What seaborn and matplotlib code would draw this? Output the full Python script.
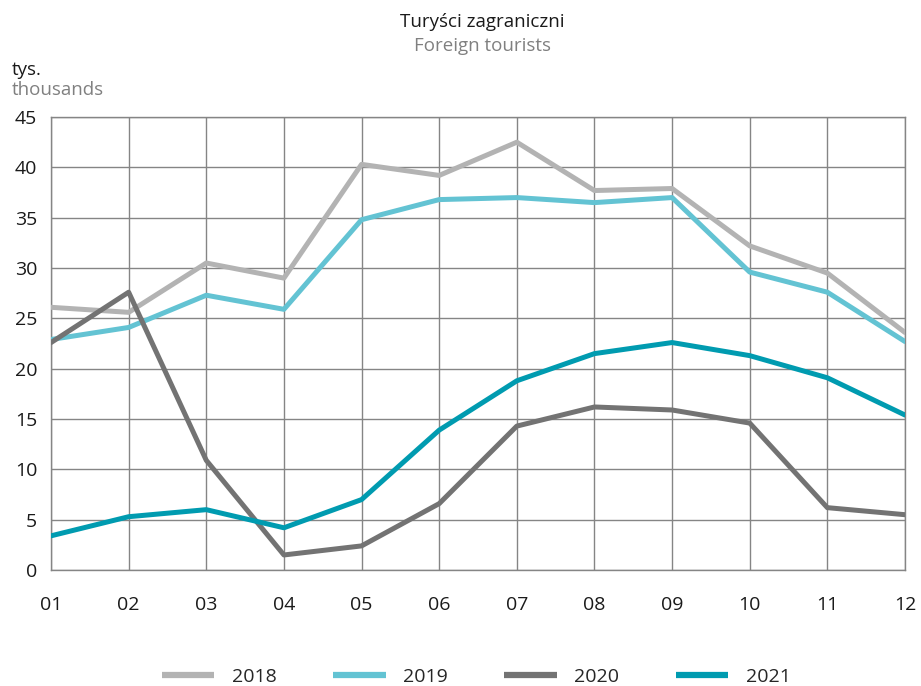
import numpy as np
import pandas as pd
import matplotlib
matplotlib.use("Agg")
import matplotlib.pyplot as plt
import seaborn as sns

sns.set_theme(style="white")
plt.rcParams['font.family'] = ['Open Sans', 'DejaVu Sans']

# Monthly foreign tourists, thousands
months = ["01", "02", "03", "04", "05", "06", "07", "08", "09", "10", "11", "12"]
years = ["2018", "2019", "2020", "2021"]
y2018 = [26.1, 25.6, 30.5, 29.0, 40.3, 39.2, 42.5, 37.7, 37.9, 32.2, 29.5, 23.6]
y2019 = [22.9, 24.1, 27.3, 25.9, 34.8, 36.8, 37.0, 36.5, 37.0, 29.6, 27.6, 22.7]
y2020 = [22.6, 27.6, 10.9, 1.5, 2.4, 6.6, 14.3, 16.2, 15.9, 14.6, 6.2, 5.5]
y2021 = [3.4, 5.3, 6.0, 4.2, 7.0, 13.9, 18.8, 21.5, 22.6, 21.3, 19.1, 15.4]
colors = ["#b3b3b3", "#63c3d3", "#737373", "#009bb0"]

df = pd.DataFrame({
    "month": list(range(1, 13)) * 4,
    "value": y2018 + y2019 + y2020 + y2021,
    "year": np.repeat(years, 12),
})

fig = plt.figure(figsize=(9.21, 6.86), dpi=100)
ax = fig.add_axes([0.0554, 0.169, 0.9272, 0.6604])

sns.lineplot(data=df, x="month", y="value", hue="year", palette=colors,
             linewidth=3.6, ax=ax, legend=False, zorder=3)

ax.set_xlim(1, 12)
ax.set_ylim(0, 45)
ax.set_xticks(range(1, 13))
ax.set_xticklabels(months)
ax.set_yticks(range(0, 46, 5))
ax.grid(True, color="#858585", linewidth=1.0)
for s in ax.spines.values():
    s.set_color("#858585")
    s.set_linewidth(1.0)
ax.tick_params(axis="both", length=0, labelsize=14, colors="#1a1a1a")
ax.tick_params(axis="x", pad=19)
ax.tick_params(axis="y", pad=10)
ax.set_xlabel("")
ax.set_ylabel("")

fig.text(0.524, 0.968, "Turyści zagraniczni", ha="center", va="center",
         fontsize=13.5, color="#1a1a1a")
fig.text(0.524, 0.933, "Foreign tourists", ha="center", va="center",
         fontsize=13.5, color="#808080")
fig.text(0.013, 0.898, "tys.", ha="left", va="center", fontsize=13.5, color="#1a1a1a")
fig.text(0.013, 0.869, "thousands", ha="left", va="center", fontsize=13.5, color="#808080")

handles = [plt.Line2D([], [], color=c, linewidth=4.5, solid_capstyle="butt")
           for c in colors]
fig.legend(handles, years, loc="center", bbox_to_anchor=(0.517, 0.013), ncol=4,
           frameon=False, fontsize=14, handlelength=2.7, handletextpad=0.9,
           columnspacing=2.9)

fig.savefig("out.png", dpi=100)
